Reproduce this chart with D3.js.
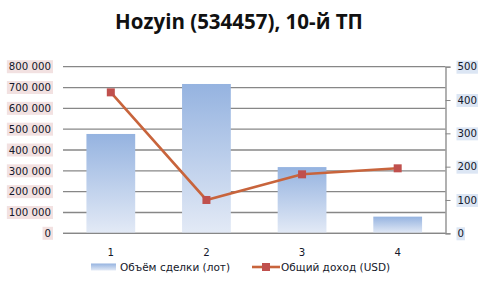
<!DOCTYPE html>
<html>
<head>
<meta charset="utf-8">
<script src="https://cdn.jsdelivr.net/npm/d3@7"></script>
<style>
  body { margin: 0; background: #fff; }
  text { font-family: "DejaVu Sans", Verdana, sans-serif; }
</style>
</head>
<body>
<div id="chart"></div>
<script>
// data
const categories = ["1", "2", "3", "4"];
const volume = [477000, 717000, 318000, 80000];   // Объём сделки (лот)
const income = [423, 100, 177, 195];              // Общий доход (USD)
const leftTicks = [0, 100000, 200000, 300000, 400000, 500000, 600000, 700000, 800000];
const rightTicks = [0, 100, 200, 300, 400, 500];

const W = 480, H = 287;
const plot = {left: 63, right: 445.5, top: 66.7, bottom: 233.3};
const txt = "#14182a";

const svg = d3.select("#chart").append("svg")
    .attr("width", W).attr("height", H);

const defs = svg.append("defs");
const grad = defs.append("linearGradient")
    .attr("id", "barGrad").attr("x1", 0).attr("y1", 0).attr("x2", 0).attr("y2", 1);
grad.append("stop").attr("offset", "0%").attr("stop-color", "#95b3e0");
grad.append("stop").attr("offset", "100%").attr("stop-color", "#e3eaf6");

const x = d3.scaleBand().domain(categories)
    .range([plot.left, plot.right]).paddingInner(0.49).paddingOuter(0.245);
const yL = d3.scaleLinear().domain([0, 800000]).range([plot.bottom, plot.top]);
const yR = d3.scaleLinear().domain([0, 500]).range([plot.bottom, plot.top]);

// title
svg.append("text")
    .attr("x", 239).attr("y", 29)
    .attr("text-anchor", "middle")
    .style("font-family", "'Open Sans', sans-serif")
    .style("font-size", "20.5px").style("font-weight", "bold").style("fill", "#111")
    .text("Hozyin (534457), 10-й ТП");

// gridlines
svg.append("g").selectAll("line")
  .data(leftTicks)
  .enter().append("line")
    .attr("x1", plot.left).attr("x2", plot.right)
    .attr("y1", d => yL(d)).attr("y2", d => yL(d))
    .style("stroke", "#878787").style("stroke-width", 1.3);

// left tick labels with pink boxes
const fmt = d => d3.format(",")(d).replace(/,/g, " ");
const lt = svg.append("g").selectAll("g")
  .data(leftTicks)
  .enter().append("g")
    .attr("transform", d => "translate(0," + yL(d) + ")");
lt.append("text")
    .attr("x", 51).attr("dy", "0.36em")
    .attr("text-anchor", "end")
    .style("font-size", "10.2px").style("fill", txt)
    .text(fmt);
lt.each(function () {
  const g = d3.select(this);
  const b = g.select("text").node().getBBox();
  g.insert("rect", "text")
    .attr("x", b.x - 2).attr("y", -6.5).attr("width", b.width + 4).attr("height", 13)
    .style("fill", "#f2e1e1");
});

// bars
svg.append("g").selectAll("rect")
  .data(volume)
  .enter().append("rect")
    .attr("x", (d, i) => x(categories[i]))
    .attr("width", x.bandwidth())
    .attr("y", d => yL(d))
    .attr("height", d => plot.bottom - yL(d))
    .style("fill", "url(#barGrad)");

svg.append("line")
    .attr("x1", plot.left).attr("x2", plot.right)
    .attr("y1", plot.bottom).attr("y2", plot.bottom)
    .style("stroke", "#878787").style("stroke-width", 1.3);

// right axis
const ra = svg.append("g")
    .attr("transform", "translate(" + plot.right + ",0)")
    .call(d3.axisRight(yR).tickValues(rightTicks).tickSize(5).tickPadding(7));
ra.select(".domain").style("stroke", "#878787").style("stroke-width", 1.3);
ra.selectAll(".tick line").style("stroke", "#878787");
ra.selectAll(".tick text")
    .style("font-size", "10.2px").style("fill", txt)
    .style("font-family", "'DejaVu Sans', sans-serif");
ra.selectAll(".tick").each(function () {
  const g = d3.select(this);
  const b = g.select("text").node().getBBox();
  g.insert("rect", "text")
    .attr("x", b.x - 1).attr("y", -6.5).attr("width", b.width + 2).attr("height", 13)
    .style("fill", "#dce6f4");
});

// category labels
svg.append("g").selectAll("text")
  .data(categories)
  .enter().append("text")
    .attr("x", d => x(d) + x.bandwidth() / 2)
    .attr("y", 256)
    .attr("text-anchor", "middle")
    .style("font-size", "10.2px").style("fill", txt)
    .text(d => d);

// income line
const cx = (d, i) => x(categories[i]) + x.bandwidth() / 2;
svg.append("path")
    .datum(income)
    .attr("d", d3.line().x(cx).y(d => yR(d)))
    .style("fill", "none").style("stroke", "#c8643c").style("stroke-width", 2.6);
svg.append("g").selectAll("rect")
  .data(income)
  .enter().append("rect")
    .attr("x", (d, i) => cx(d, i) - 4).attr("y", d => yR(d) - 4)
    .attr("width", 8).attr("height", 8)
    .style("fill", "#c0504d");

// legend
const leg = svg.append("g").attr("transform", "translate(0,267)");
leg.append("rect")
    .attr("x", 91).attr("y", -3.5).attr("width", 25).attr("height", 7)
    .style("fill", "url(#barGrad)");
leg.append("text")
    .attr("x", 120).attr("dy", "0.36em")
    .style("font-size", "10.5px").style("fill", txt)
    .text("Объём сделки (лот)");
leg.append("line")
    .attr("x1", 252).attr("x2", 280).attr("y1", 0).attr("y2", 0)
    .style("stroke", "#c8643c").style("stroke-width", 2.6);
leg.append("rect")
    .attr("x", 262).attr("y", -4).attr("width", 8).attr("height", 8)
    .style("fill", "#c0504d");
leg.append("text")
    .attr("x", 281).attr("dy", "0.36em")
    .style("font-size", "10.5px").style("fill", txt)
    .text("Общий доход (USD)");
</script>
</body>
</html>
